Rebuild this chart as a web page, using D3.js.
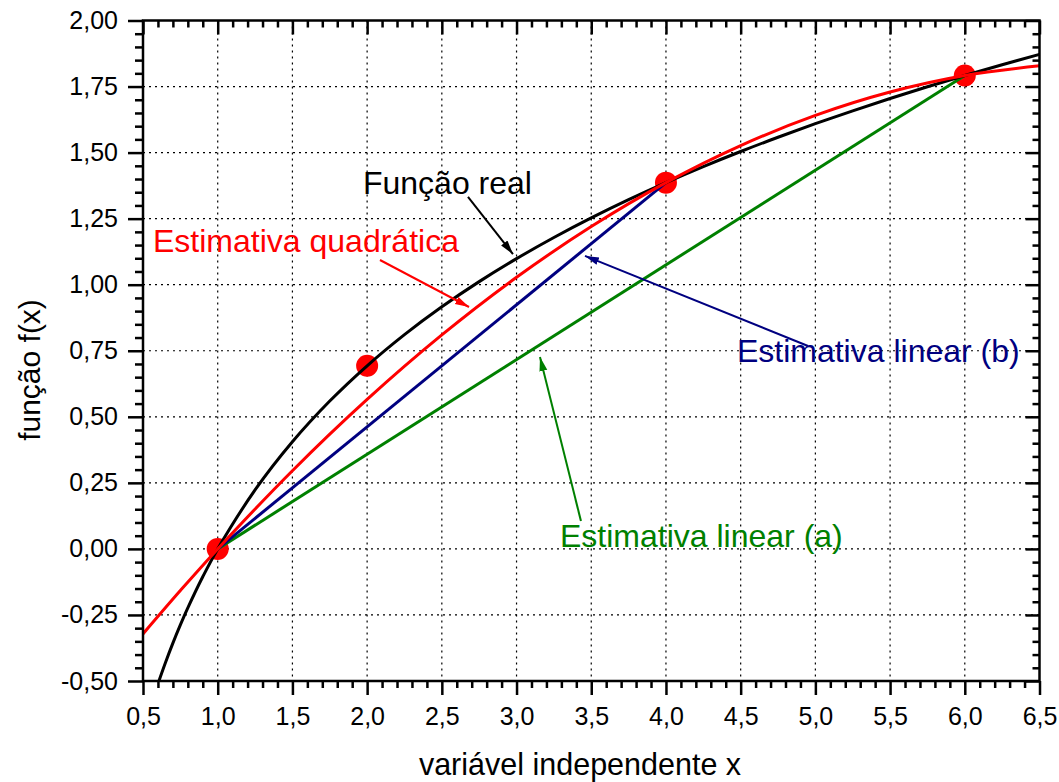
<!DOCTYPE html>
<html>
<head>
<meta charset="utf-8">
<script src="https://cdn.jsdelivr.net/npm/d3@7"></script>
<style>
  html, body { margin: 0; padding: 0; background: #fff; }
  svg { display: block; font-family: "Liberation Sans", Arial, sans-serif; }
</style>
</head>
<body>
<svg id="chart" width="1059" height="782"></svg>
<script>
// ln(x) sampled along the domain
const realX = [0.6065, 0.65, 0.7, 0.75, 0.8, 0.9, 1.0, 1.25, 1.5, 1.75, 2.0, 2.25, 2.5, 2.75, 3.0, 3.25, 3.5, 3.75, 4.0, 4.25, 4.5, 4.75, 5.0, 5.25, 5.5, 5.75, 6.0, 6.25, 6.5];
const realY = [-0.5, -0.4308, -0.3567, -0.2877, -0.2231, -0.1054, 0, 0.2231, 0.4055, 0.5596, 0.6931, 0.8109, 0.9163, 1.0116, 1.0986, 1.1787, 1.2528, 1.3218, 1.3863, 1.4469, 1.5041, 1.5581, 1.6094, 1.6582, 1.7047, 1.7492, 1.7918, 1.8326, 1.8718];

// quadratic interpolating polynomial through x = 1, 4, 6
const quadX = [0.5, 0.75, 1.0, 1.5, 2.0, 2.5, 3.0, 3.5, 4.0, 4.5, 5.0, 5.5, 6.0, 6.5];
const quadY = [-0.3218, -0.1577, 0, 0.2959, 0.5658, 0.8098, 1.0279, 1.2201, 1.3863, 1.5266, 1.6409, 1.7293, 1.7918, 1.8283];

// linear interpolations
const linAX = [1, 6];
const linAY = [0, 1.7918];
const linBX = [1, 4];
const linBY = [0, 1.3863];

// known data points
const ptsX = [1, 2, 4, 6];
const ptsY = [0, 0.6931, 1.3863, 1.7918];

// axis ticks
const xTicks = [0.5, 1.0, 1.5, 2.0, 2.5, 3.0, 3.5, 4.0, 4.5, 5.0, 5.5, 6.0, 6.5];
const xTickLabels = ["0,5", "1,0", "1,5", "2,0", "2,5", "3,0", "3,5", "4,0", "4,5", "5,0", "5,5", "6,0", "6,5"];
const yTicks = [-0.5, -0.25, 0, 0.25, 0.5, 0.75, 1.0, 1.25, 1.5, 1.75, 2.0];
const yTickLabels = ["-0,50", "-0,25", "0,00", "0,25", "0,50", "0,75", "1,00", "1,25", "1,50", "1,75", "2,00"];

// annotation texts, their anchors and arrows (data units)
const noteText = ["Função real", "Estimativa quadrática", "Estimativa linear (b)", "Estimativa linear (a)"];
const noteColor = ["#000000", "#ff0000", "#000080", "#008000"];
const noteX = [1.972, 0.567, 4.475, 3.291];
const noteY = [1.343, 1.124, 0.7075, 0.0071];
const arrowFromX = [2.675, 2.086, 4.951, 3.431];
const arrowFromY = [1.332, 1.0935, 0.768, 0.1056];
const arrowToX = [2.976, 2.682, 3.458, 3.157];
const arrowToY = [1.116, 0.9156, 1.109, 0.726];

const svg = d3.select("#chart");
const L = 143, R = 1039.5, T = 20.5, B = 681;

const x = d3.scaleLinear().domain([0.5, 6.5]).range([L, R]);
const y = d3.scaleLinear().domain([-0.5, 2.0]).range([B, T]);

const xMinor = d3.range(5, 66).map(d => d / 10).filter(d => Math.round(d * 10) % 5 !== 0);
const yMinor = d3.range(-50, 201, 5).map(d => d / 100).filter(d => Math.round(d * 100) % 25 !== 0);

// grid
const grid = svg.append("g").attr("stroke", "#000").attr("stroke-width", 1.2).attr("stroke-dasharray", "2,4");
grid.selectAll(".gx").data(xTicks.slice(1, -1)).join("line")
  .attr("x1", d => x(d)).attr("x2", d => x(d)).attr("y1", T).attr("y2", B);
grid.selectAll(".gy").data(yTicks.slice(1, -1)).join("line")
  .attr("y1", d => y(d)).attr("y2", d => y(d)).attr("x1", L).attr("x2", R);

// clip for curves
svg.append("defs").append("clipPath").attr("id", "plotclip")
  .append("rect").attr("x", L).attr("y", T).attr("width", R - L).attr("height", B - T);

// arrow marker heads
const defs = svg.select("defs");
noteColor.forEach((c, i) => {
  defs.append("marker").attr("id", "arrow" + i)
    .attr("markerUnits", "userSpaceOnUse")
    .attr("viewBox", "0 -5 14 10").attr("refX", 14).attr("refY", 0)
    .attr("markerWidth", 14).attr("markerHeight", 10).attr("orient", "auto")
    .append("path").attr("d", "M0,-4L14,0L0,4Z").attr("fill", c);
});

const plot = svg.append("g").attr("clip-path", "url(#plotclip)");

// data points
plot.selectAll("circle").data(ptsX.map((d, i) => [d, ptsY[i]])).join("circle")
  .attr("cx", d => x(d[0])).attr("cy", d => y(d[1])).attr("r", 11).attr("fill", "#ff0000");

const smooth = d3.line().x(d => x(d[0])).y(d => y(d[1])).curve(d3.curveCatmullRom);
const straight = d3.line().x(d => x(d[0])).y(d => y(d[1]));
const zip = (a, b) => a.map((d, i) => [d, b[i]]);

plot.append("path").attr("d", straight(zip(linAX, linAY))).attr("fill", "none").attr("stroke", "#008000").attr("stroke-width", 3);
plot.append("path").attr("d", straight(zip(linBX, linBY))).attr("fill", "none").attr("stroke", "#000080").attr("stroke-width", 3);
plot.append("path").attr("d", smooth(zip(realX, realY))).attr("fill", "none").attr("stroke", "#000").attr("stroke-width", 3);
plot.append("path").attr("d", smooth(zip(quadX, quadY))).attr("fill", "none").attr("stroke", "#ff0000").attr("stroke-width", 3);

// axes
const fmtX = d => xTickLabels[xTicks.indexOf(d)];
const fmtY = d => yTickLabels[yTicks.indexOf(d)];
function styleAxis(g) {
  g.select(".domain").remove();
  g.selectAll("line").attr("stroke", "#000").attr("stroke-width", 2.5);
  g.selectAll("text").attr("fill", "#000").attr("font-size", 25)
    .attr("font-family", "'Liberation Sans', Arial, sans-serif");
}
svg.append("g").attr("transform", `translate(0,${B})`)
  .call(d3.axisBottom(x).tickValues(xTicks).tickFormat(fmtX).tickSize(14).tickPadding(12)).call(styleAxis);
svg.append("g").attr("transform", `translate(0,${B})`)
  .call(d3.axisBottom(x).tickValues(xMinor).tickFormat("").tickSize(7)).call(styleAxis);
svg.append("g").attr("transform", `translate(0,${T})`)
  .call(d3.axisTop(x).tickValues(xTicks).tickFormat("").tickSize(-14)).call(styleAxis);
svg.append("g").attr("transform", `translate(0,${T})`)
  .call(d3.axisTop(x).tickValues(xMinor).tickFormat("").tickSize(-7)).call(styleAxis);
svg.append("g").attr("transform", `translate(${L},0)`)
  .call(d3.axisLeft(y).tickValues(yTicks).tickFormat(fmtY).tickSize(15).tickPadding(10)).call(styleAxis);
svg.append("g").attr("transform", `translate(${L},0)`)
  .call(d3.axisLeft(y).tickValues(yMinor).tickFormat("").tickSize(8)).call(styleAxis);
svg.append("g").attr("transform", `translate(${R},0)`)
  .call(d3.axisRight(y).tickValues(yTicks).tickFormat("").tickSize(-14)).call(styleAxis);
svg.append("g").attr("transform", `translate(${R},0)`)
  .call(d3.axisRight(y).tickValues(yMinor).tickFormat("").tickSize(-7)).call(styleAxis);

// frame
svg.append("rect").attr("x", L).attr("y", T).attr("width", R - L).attr("height", B - T)
  .attr("fill", "none").attr("stroke", "#000").attr("stroke-width", 2.5);

// axis titles
svg.append("text").attr("x", 580).attr("y", 775).attr("text-anchor", "middle")
  .attr("font-size", 30.5).attr("fill", "#000").text("variável independente x");
svg.append("text").attr("transform", "translate(40,370) rotate(-90)").attr("text-anchor", "middle")
  .attr("font-size", 30).attr("fill", "#000").text("função f(x)");

// annotations
noteText.forEach((t, i) => {
  svg.append("line")
    .attr("x1", x(arrowFromX[i])).attr("y1", y(arrowFromY[i]))
    .attr("x2", x(arrowToX[i])).attr("y2", y(arrowToY[i]))
    .attr("stroke", noteColor[i]).attr("stroke-width", 2)
    .attr("marker-end", `url(#arrow${i})`);
  svg.append("text").attr("x", x(noteX[i])).attr("y", y(noteY[i]))
    .attr("font-size", 32).attr("fill", noteColor[i]).text(t);
});
</script>
</body>
</html>
